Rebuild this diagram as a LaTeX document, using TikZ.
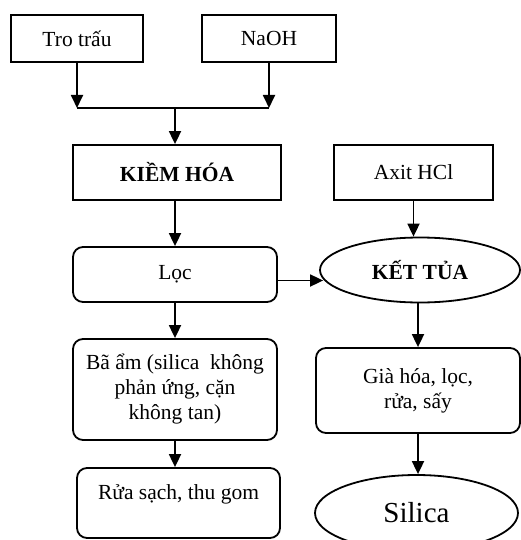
\documentclass[tikz,border=0pt]{standalone}
\usepackage{fontspec}
\setmainfont{Liberation Serif}
\usetikzlibrary{arrows.meta,shapes.geometric,calc}
\begin{document}
\begin{tikzpicture}[x=1pt,y=-1pt,
 box/.style={draw,line width=1.8pt,align=center,inner sep=2pt,font=\fontsize{21.5}{25}\selectfont},
 rbox/.style={box,rounded corners=10pt},
 oval/.style={draw,ellipse,line width=1.8pt,inner sep=0pt,align=center},
 arr/.style={line width=1.8pt,-{Triangle[length=13pt,width=12pt]}},
 ln/.style={line width=1.8pt}]
\useasboundingbox (0,0) rectangle (520,540);
\node[box,minimum width=132pt,minimum height=47pt] (tro) at (77,38.5) {Tro trấu};
\node[box,minimum width=134pt,minimum height=47pt] (naoh) at (269,38.5) {NaOH};
\node[box,minimum width=208pt,minimum height=55pt,font=\fontsize{21.5}{25}\selectfont\bfseries] (kiem) at (177,172.5) {KIỀM HÓA};
\node[box,minimum width=159pt,minimum height=55pt] (axit) at (413.5,172.5) {Axit HCl};
\node[rbox,minimum width=204pt,minimum height=55pt] (loc) at (175,274.5) {Lọc};
\node[oval,minimum width=200pt,minimum height=65pt,font=\fontsize{21.5}{25}\selectfont\bfseries] (ket) at (420,270) {KẾT TỦA};
\node[rbox,minimum width=204pt,minimum height=101pt] (bam) at (175,389.5) {Bã ẩm (silica\ \ không\\phản ứng, cặn\\không tan)};
\node[rbox,minimum width=204pt,minimum height=85pt] (gia) at (418,390.5) {Già hóa, lọc,\\rửa, sấy};
\node[rbox,minimum width=203pt,minimum height=70pt,text depth=22pt] (rua) at (178.5,503) {Rửa sạch, thu gom};
\node[oval,minimum width=203pt,minimum height=76pt,font=\fontsize{29}{33}\selectfont] (sil) at (416.5,513) {Silica};
\coordinate (jl) at (tro.south |- 0,108);
\coordinate (jr) at (naoh.south |- 0,108);
\coordinate (jm) at (loc.north |- 0,108);
\draw[arr] (tro.south) -- (jl);
\draw[arr] (naoh.south) -- (jr);
\draw[ln] (jl) -- (jr);
\draw[arr] (jm) -- (jm |- kiem.north);
\draw[arr] (loc.north |- kiem.south) -- (loc.north);
\draw[arr] (axit.south) -- (axit.south |- ket.north);
\draw[arr] ([yshift=-6pt]loc.east) -- ([yshift=-6pt,xshift=4pt]loc.east -| ket.west);
\draw[arr] (loc.south) -- (bam.north);
\draw[arr] (bam.south) -- (bam.south |- rua.north);
\draw[arr] (gia.north |- ket.south) -- (gia.north);
\draw[arr] (gia.south) -- (gia.south |- sil.north);
\end{tikzpicture}
\end{document}
